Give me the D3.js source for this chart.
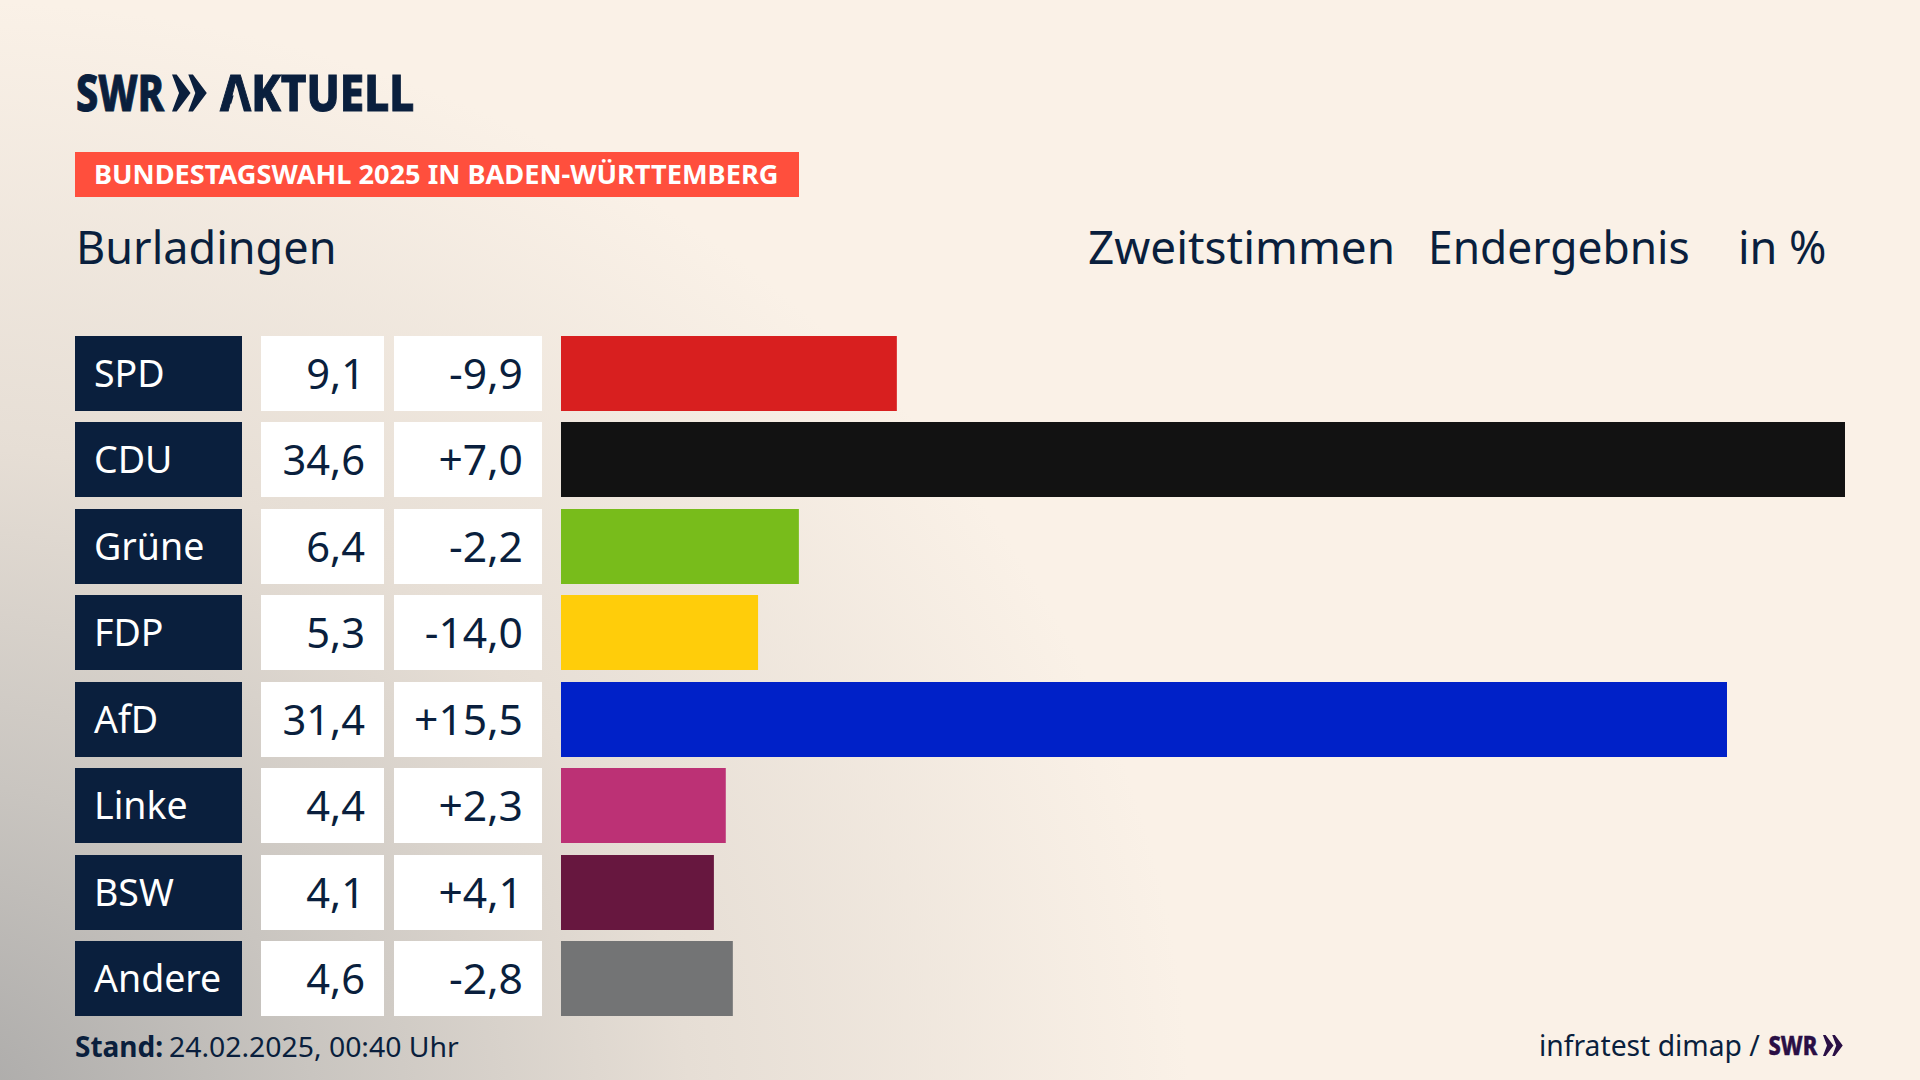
<!DOCTYPE html>
<html>
<head>
<meta charset="utf-8">
<script src="https://cdn.jsdelivr.net/npm/d3@7"></script>
<style>
  html, body { margin: 0; padding: 0; background: #faf1e7; }
  svg { display: block; }
  text { font-family: "Noto Sans", sans-serif; fill: #0a1f3d; }
</style>
</head>
<body>
<svg id="chart" width="1920" height="1080"></svg>
<script>
const parties = ['SPD', 'CDU', 'Grüne', 'FDP', 'AfD', 'Linke', 'BSW', 'Andere'];
const shares = [9.1, 34.6, 6.4, 5.3, 31.4, 4.4, 4.1, 4.6];
const changes = [-9.9, 7.0, -2.2, -14.0, 15.5, 2.3, 4.1, -2.8];
// bar lengths, slightly finer than the printed labels
const barValues = [9.05, 34.6, 6.41, 5.31, 31.42, 4.44, 4.12, 4.63];
const partyColors = ['#d81f1f', '#121212', '#78bc1b', '#ffcd0a', '#0021c8', '#bc3175', '#67173f', '#737475'];

const navy = '#0a1f3d';
const purple = '#2a0f45';
const width = 1920, height = 1080;
const svg = d3.select('#chart');
const defs = svg.append('defs');

const fmt = v => v.toFixed(1).replace('.', ',');
const fmtChange = v => (v > 0 ? '+' : '') + fmt(v);

// grey haze coming out of the lower left corner
const haze = defs.append('radialGradient')
    .attr('id', 'haze')
    .attr('gradientUnits', 'userSpaceOnUse')
    .attr('cx', 0).attr('cy', 0).attr('r', 1)
    .attr('gradientTransform', 'translate(-60,1120) scale(1250,1120)');
[[0, '#a9a8a7'], [0.3, '#c9c5c0'], [0.6, '#e6ded5'], [1, '#faf1e7']].forEach(s => {
    haze.append('stop').attr('offset', s[0]).attr('stop-color', s[1]);
});
svg.append('rect').attr('width', width).attr('height', height).attr('fill', '#faf1e7');
svg.append('rect').attr('width', width).attr('height', height).attr('fill', 'url(#haze)');

const y = d3.scaleBand().domain(parties).range([336, 1016]).paddingInner(0.132);
const rowY = d => Math.round(y(d));
const rowH = Math.round(y.bandwidth());
const x = d3.scaleLinear().domain([0, d3.max(barValues)]).range([561, 1845]);
const color = d3.scaleOrdinal(parties, partyColors);

// text squeezed horizontally, anchored at its own x position
function label(text, px, py, size, opts = {}, parent = svg) {
    const sx = opts.sx || 1;
    const fill = opts.fill || navy;
    return parent.append('text')
        .attr('transform', `translate(${px},${py}) scale(${sx},1)`)
        .attr('font-size', size)
        .attr('font-weight', opts.weight || 400)
        .attr('text-anchor', opts.anchor || 'start')
        .style('fill', fill)
        .style('stroke', opts.stroke ? fill : 'none')
        .style('stroke-width', opts.stroke || 0)
        .text(text);
}

function cells(cls, x0, x1, fill) {
    svg.selectAll('rect.' + cls)
        .data(parties)
        .enter()
        .append('rect')
        .attr('class', cls)
        .attr('x', x0)
        .attr('width', x1 - x0)
        .attr('y', rowY)
        .attr('height', rowH)
        .attr('fill', fill);
}

cells('party', 75, 242, navy);
cells('share', 261, 384, '#fff');
cells('change', 394, 542, '#fff');

svg.selectAll('rect.bar')
    .data(barValues)
    .enter()
    .append('rect')
    .attr('class', 'bar')
    .attr('x', x(0))
    .attr('width', d => x(d) - x(0))
    .attr('y', (d, i) => rowY(parties[i]))
    .attr('height', rowH)
    .attr('fill', (d, i) => color(parties[i]));

parties.forEach((p, i) => {
    const base = rowY(p) + rowH / 2;
    label(p, 94, base + 13.3, 37.5, { fill: '#fff' });
    label(fmt(shares[i]), 365, base + 15.3, 41, { anchor: 'end', sx: 1.015 });
    label(fmtChange(changes[i]), 523, base + 15.3, 41, { anchor: 'end', sx: 1.04 });
});

// header
function chevrons(x0, top, h, fill) {
    const w = h * 0.5;
    [0, w * 0.88].forEach(dx => {
        const l = x0 + dx;
        svg.append('path')
            .attr('d', `M${l},${top}L${l + w * 0.25},${top}L${l + w},${top + h / 2}L${l + w * 0.25},${top + h}L${l},${top + h}L${l + w * 0.38},${top + h / 2}Z`)
            .attr('fill', fill);
    });
}
label('SWR', 76, 110.5, 50, { weight: 800, sx: 0.79, stroke: 1 });
chevrons(172, 74.5, 37, navy);

// the logo's A has no crossbar
const noBar = defs.append('mask')
    .attr('id', 'no-bar')
    .attr('maskUnits', 'userSpaceOnUse')
    .attr('x', 0).attr('y', 0).attr('width', width).attr('height', height);
noBar.append('rect').attr('width', width).attr('height', height).attr('fill', '#fff');
noBar.append('path').attr('d', 'M236.5,85L244,112L229,112Z').attr('fill', '#000');
const wordmark = svg.append('g').attr('mask', 'url(#no-bar)');
label('AKTUELL', 220, 110.5, 50, { weight: 800, sx: 0.88, stroke: 1 }, wordmark);

svg.append('rect').attr('x', 75).attr('y', 152).attr('width', 724).attr('height', 45).attr('fill', '#ff4f3d');
label('BUNDESTAGSWAHL 2025 IN BADEN-WÜRTTEMBERG', 94, 184, 27, { weight: 700, fill: '#fff', sx: 1.007 });

label('Burladingen', 76, 264, 45);
label('Zweitstimmen', 1088, 264, 45, { sx: 1.02 });
label('Endergebnis', 1428, 264, 45, { sx: 0.985 });
label('in %', 1738, 264, 45);

// footer
label('Stand:', 75, 1057, 28, { weight: 700 });
label('24.02.2025, 00:40 Uhr', 169, 1057, 28, { sx: 1.013 });
label('infratest dimap /', 1539, 1056, 29, { sx: 0.975 });
label('SWR', 1768.5, 1055, 27, { weight: 800, fill: purple, sx: 0.81, stroke: 0.5 });
chevrons(1823, 1035, 21, purple);
</script>
</body>
</html>
